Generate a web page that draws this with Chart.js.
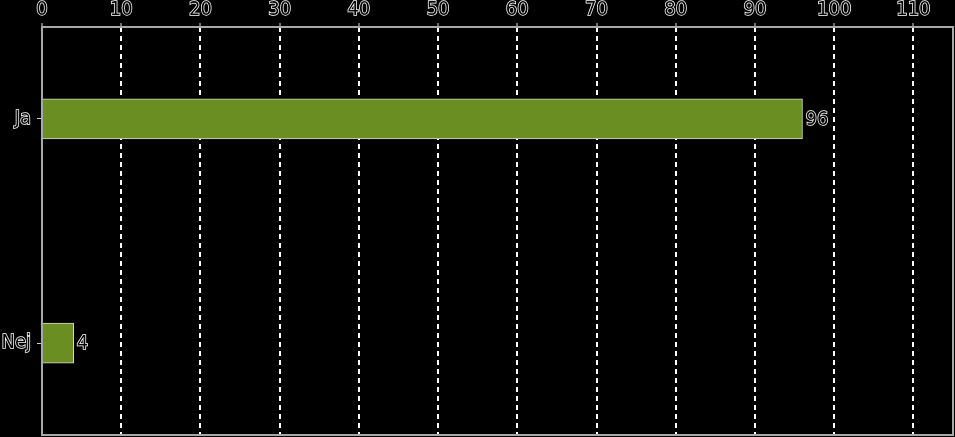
<!DOCTYPE html>
<html>
<head>
<meta charset="utf-8">
<script src="https://cdn.jsdelivr.net/npm/chart.js@4/dist/chart.umd.min.js"></script>
<style>
  html, body { margin: 0; padding: 0; background: #000; }
  #wrap { width: 955px; height: 437px; }
</style>
</head>
<body>
<div id="wrap"><canvas id="chart"></canvas></div>
<script>
const categories = ['Ja', 'Nej'];
const values = [96, 4];
const xTicks = [0, 10, 20, 30, 40, 50, 60, 70, 80, 90, 100, 110];

const FONT = { family: 'DejaVu Sans Condensed', size: 20 };

// frame round the plot area
const framePlugin = {
  id: 'frame',
  afterDraw(chart) {
    const a = chart.chartArea;
    const ctx = chart.ctx;
    ctx.save();
    ctx.strokeStyle = '#a8a8a8';
    ctx.lineWidth = 2;
    ctx.strokeRect(a.left, a.top, a.right - a.left, a.bottom - a.top);
    ctx.restore();
  }
};

// value labels at the bar ends
const valueLabels = {
  id: 'valueLabels',
  afterDatasetsDraw(chart) {
    const ctx = chart.ctx;
    const meta = chart.getDatasetMeta(0);
    ctx.save();
    ctx.font = FONT.size + 'px "' + FONT.family + '"';
    ctx.textAlign = 'left';
    ctx.textBaseline = 'middle';
    ctx.lineWidth = 1.5;
    ctx.strokeStyle = '#fff';
    ctx.fillStyle = '#000';
    meta.data.forEach((bar, i) => {
      const txt = String(values[i]);
      ctx.strokeText(txt, bar.x + 3, bar.y + 1);
      ctx.fillText(txt, bar.x + 3, bar.y + 1);
    });
    ctx.restore();
  }
};

new Chart(document.getElementById('chart'), {
  type: 'bar',
  data: {
    datasets: [{
      data: values.map((v, i) => ({ x: v, y: i })),
      backgroundColor: '#6b8e23',
      borderColor: '#d8d8c8',
      borderWidth: 1,
      barThickness: 40
    }]
  },
  options: {
    indexAxis: 'y',
    responsive: true,
    maintainAspectRatio: false,
    animation: false,
    layout: { padding: { right: 2, bottom: 2 } },
    plugins: { legend: { display: false }, tooltip: { enabled: false } },
    scales: {
      x: {
        type: 'linear',
        position: 'top',
        min: 0,
        max: 115,
        afterFit(scale) {
          scale.height = 27;
          scale.paddingLeft = 0;
          scale.paddingRight = 0;
        },
        afterBuildTicks(scale) { scale.ticks = xTicks.map(v => ({ value: v })); },
        grid: {
          color: '#fff',
          lineWidth: 2,
          tickLength: 4,
          tickColor: '#ddd',
          tickWidth: 1,
          tickBorderDash: [],
          drawTicks: true
        },
        border: { display: false, dash: [5, 4] },
        ticks: {
          font: FONT,
          color: '#000',
          textStrokeColor: '#fff',
          textStrokeWidth: 1.5,
          padding: 1,
          maxRotation: 0
        }
      },
      y: {
        type: 'linear',
        reverse: true,
        offset: false,
        min: -0.41,
        max: 1.41,
        afterFit(scale) {
          scale.width = 42;
          scale.paddingTop = 0;
          scale.paddingBottom = 0;
        },
        afterBuildTicks(scale) { scale.ticks = categories.map((c, i) => ({ value: i })); },
        grid: { offset: false, drawOnChartArea: false, color: '#ccc', tickLength: 5 },
        border: { display: false },
        ticks: {
          font: FONT,
          color: '#000',
          textStrokeColor: '#fff',
          textStrokeWidth: 1.5,
          padding: 6,
          callback: (v) => categories[v]
        }
      }
    }
  },
  plugins: [framePlugin, valueLabels]
});
</script>
</body>
</html>
